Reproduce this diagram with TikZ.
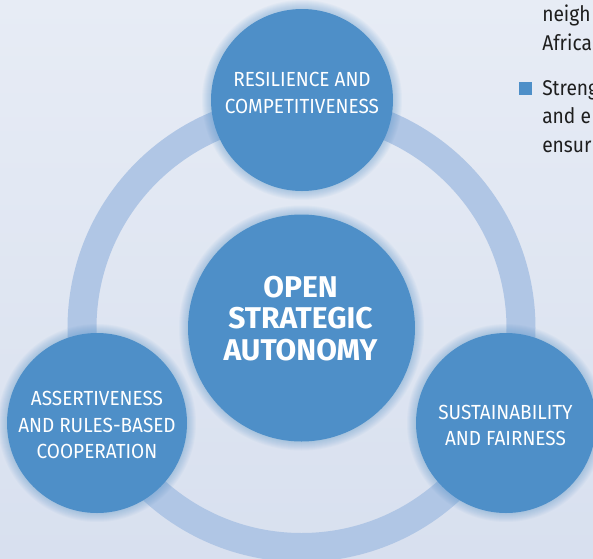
\documentclass[tikz,border=0pt]{standalone}
\usepackage{fontspec}
\setmainfont{Fira Sans}
\newfontfamily\lightfont[FakeStretch=0.93]{Fira Sans}
\newfontfamily\boldfont{Fira Sans Bold}
\newfontfamily\bodyfont[FakeStretch=0.9]{Fira Sans}
\definecolor{bgtop}{HTML}{E7ECF5}
\definecolor{bgbot}{HTML}{D8E0EF}
\definecolor{ringblue}{HTML}{B0C6E5}
\definecolor{discblue}{HTML}{4E8FC8}
\definecolor{bodytext}{HTML}{1E1E1E}
\begin{document}
\begin{tikzpicture}[x=0.75pt,y=-0.75pt,
  disc/.style={circle, fill=discblue, inner sep=0pt},
  lab/.style={text=white, align=center, inner sep=0pt,
    font=\lightfont\fontsize{15.3}{19.9}\selectfont},
  core/.style={text=white, align=center, inner sep=0pt,
    font=\boldfont\fontsize{22.5}{23.6}\selectfont},
  body/.style={text=bodytext, anchor=base west, inner sep=0pt,
    font=\bodyfont\fontsize{16}{21}\selectfont}]
\useasboundingbox (0,0) rectangle (593,558);
\clip (0,0) rectangle (593,558);
% backdrop
\fill[top color=bgtop, bottom color=bgbot] (0,0) rectangle (593,558);
% centres of the discs
\coordinate (hub) at (301.5,328);
\coordinate (cT) at (302,100);
\coordinate (cL) at (97,423);
\coordinate (cR) at (506,423);
% connecting ring
\draw[ringblue, line width=21.75pt] (hub) circle (219.5);
% soft halo around each disc
\foreach \c/\r in {cT/91, cL/90, cR/90, hub/113.5} {
  \foreach \k in {1,...,9}
    \fill[discblue, opacity=0.045] (\c) circle (\r+\k);
}
% discs
\node[disc, minimum size=136.5pt] (top) at (cT) {};
\node[disc, minimum size=135pt] (left) at (cL) {};
\node[disc, minimum size=135pt] (right) at (cR) {};
\node[disc, minimum size=170.25pt] (centre) at (hub) {};
% labels
\node[lab] (topLab) at (302,93) {RESILIENCE AND\\COMPETITIVENESS};
\node[lab] (leftLab) at (97,425) {ASSERTIVENESS\\AND RULES-BASED\\COOPERATION};
\node[lab] (rightLab) at (505.5,425.5) {SUSTAINABILITY\\AND FAIRNESS};
\node[core] (coreLab) at (300.5,318.5) {OPEN\\STRATEGIC\\AUTONOMY};
% running text at the right edge
\node[body] (b1) at (542,21.5) {neigh};
\node[body] (b2) at (542,50) {Africa};
\node[fill=discblue, minimum size=9.75pt, inner sep=0pt] (bullet) at (525,88) {};
\node[body] (b3) at (542,95) {Streng};
\node[body] (b4) at (542,123.5) {and e};
\node[body] (b5) at (542,152) {ensur};
\end{tikzpicture}
\end{document}
